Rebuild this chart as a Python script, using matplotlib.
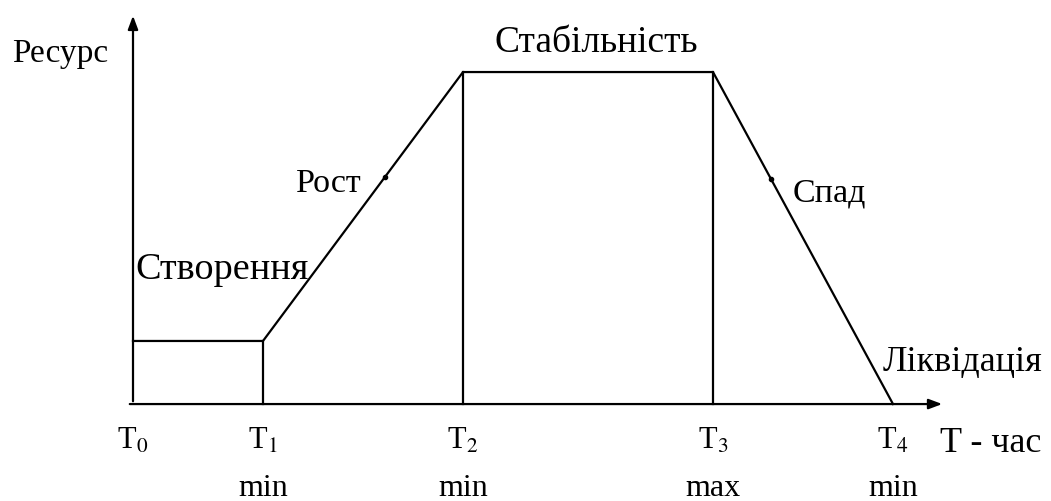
import numpy as np
import matplotlib.pyplot as plt

plt.rcParams['font.family'] = ['Liberation Serif', 'DejaVu Serif']
plt.rcParams['mathtext.fontset'] = 'stix'

# stage boundaries (time) and resource levels
times = [0, 13, 33, 58, 76]
t_names = ['T$_0$', 'T$_1$', 'T$_2$', 'T$_3$', 'T$_4$']
t_notes = ['', 'min', 'min', 'max', 'min']
resource = [19, 19, 100, 100, 0]
dot_times = [25.2, 63.8]

fig = plt.figure(figsize=(10.51, 5.02), dpi=100)
ax = fig.add_axes([0, 0, 1, 1])
ax.set_xlim(-13.3, 91.8)
ax.set_ylim(-29.2, 122.0)
ax.axis('off')

lw = 1.6
# axes with arrows
ax.annotate('', xy=(81.2, 0), xytext=(-0.6, 0),
            arrowprops=dict(arrowstyle='-|>,head_length=0.8,head_width=0.3', color='black', lw=lw))
ax.annotate('', xy=(0, 117.8), xytext=(0, 0),
            arrowprops=dict(arrowstyle='-|>,head_length=0.8,head_width=0.3', color='black', lw=lw))

# life-cycle profile
ax.plot(times, resource, color='black', lw=lw)
for t, r in zip(times[1:4], resource[1:4]):
    ax.plot([t, t], [0, r], color='black', lw=lw)

# small dots on the growth / decline lines
dot_y = np.interp(dot_times, times[1:], resource[1:])
ax.plot(dot_times, dot_y, 'o', color='black', ms=3)

ax.text(-12.1, 105.7, 'Ресурс', fontsize=24, ha='left', va='center')
ax.text(46.3, 109.0, 'Стабільність', fontsize=27, ha='center', va='center')
ax.text(22.9, 66.8, 'Рост', fontsize=24.5, ha='right', va='center')
ax.text(66.0, 63.9, 'Спад', fontsize=24.5, ha='left', va='center')
ax.text(0.2, 40.7, 'Створення', fontsize=27.5, ha='left', va='center')
ax.text(75.0, 12.7, 'Ліквідація', fontsize=26, ha='left', va='center')

for t, name, note in zip(times, t_names, t_notes):
    ax.text(t, -10.8, name, fontsize=22, ha='center', va='center')
    if note:
        ax.text(t, -25.0, note, fontsize=23, ha='center', va='center')
ax.text(80.7, -11.5, 'T - час', fontsize=26, ha='left', va='center')

fig.savefig('out.png', dpi=100, facecolor='white')
